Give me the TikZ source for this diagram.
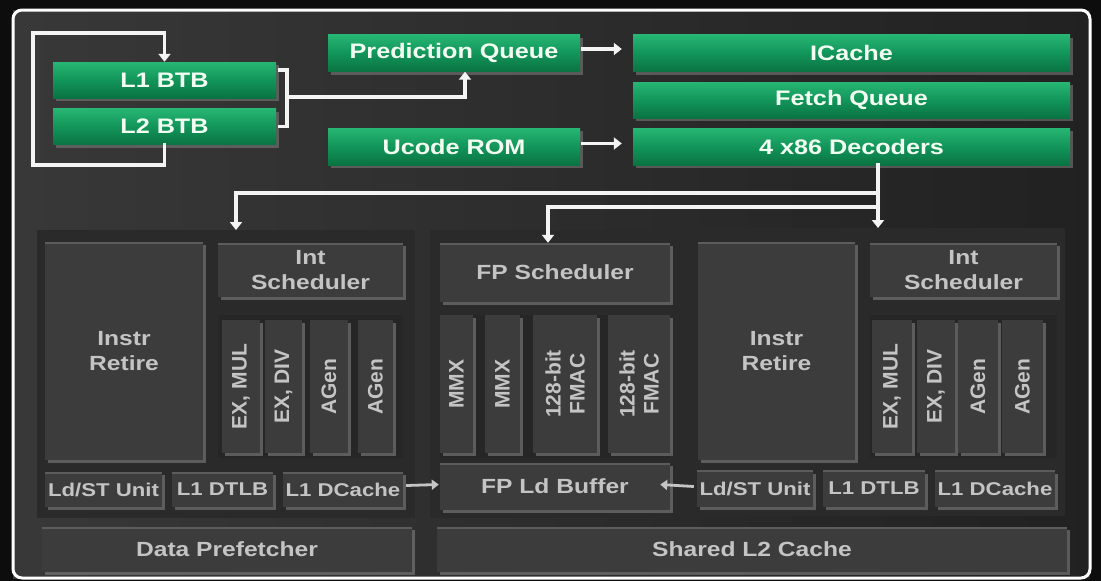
\documentclass[tikz,border=0pt]{standalone}
\usepackage{fontspec}
\newfontfamily\lab{Liberation Sans}[FakeStretch=1.2]
\newfontfamily\vlab{Liberation Sans}
\usetikzlibrary{arrows.meta,shadows,calc}

\definecolor{gtop}{HTML}{27B673}
\definecolor{gmid}{HTML}{12955A}
\definecolor{gbot}{HTML}{0A7342}
\definecolor{panel}{HTML}{2A2A2A}
\definecolor{boxfill}{HTML}{3C3C3C}
\definecolor{boxedge}{HTML}{5C5C5C}
\definecolor{graytext}{HTML}{C4C4C4}
\definecolor{wirecol}{HTML}{F4F4F4}

\begin{document}
\begin{tikzpicture}[x=1pt,y=-1pt,
  gbox/.style={top color=gtop, bottom color=gbot, middle color=gmid,
    inner sep=0pt, text=white!95!green,
    font=\lab\bfseries\fontsize{21}{25}\selectfont,
    drop shadow={shadow xshift=3pt, shadow yshift=-3pt, opacity=.55}},
  dbox/.style={fill=boxfill, inner sep=0pt, align=center, text=graytext,
    font=\lab\bfseries\fontsize{20.5}{25}\selectfont,
    drop shadow={shadow xshift=3pt, shadow yshift=-3pt, opacity=.6},
    path picture={\draw[boxedge, line width=3pt]
      (path picture bounding box.north west) -- (path picture bounding box.north east);}},
  smallbox/.style={dbox, font=\lab\bfseries\fontsize{18.5}{22}\selectfont},
  colbox/.style={fill=boxfill, inner sep=0pt, rotate=90, align=center,
    text=graytext, font=\vlab\bfseries\fontsize{21}{24}\selectfont,
    drop shadow={shadow xshift=3pt, shadow yshift=-3pt, opacity=.6}},
  backing/.style={fill=panel, inner sep=0pt},
  wire/.style={draw=wirecol, line width=3.6pt, line cap=rect,
    -{Triangle[width=12pt,length=8pt]}},
  plainwire/.style={draw=wirecol, line width=3.6pt},
  thinwire/.style={draw=graytext, line width=2.8pt,
    -{Triangle[width=10pt,length=7pt]}},
]
\useasboundingbox (0,0) rectangle (1101,581);
% page and frame
\fill[black!95] (0,0) rectangle (1101,581);
\path[shading=axis, shading angle=70, left color=black!78, right color=black!87]
  (13,10) rectangle (1090,578);
\draw[white!92, line width=3pt, rounded corners=9pt] (13,10) rectangle (1090,578);

% front end
\node[gbox, minimum width=223pt, minimum height=36pt] (l1) at (164.5,80) {L1 BTB};
\node[gbox, minimum width=223pt, minimum height=36pt] (l2) at (164.5,126.5) {L2 BTB};
\node[gbox, minimum width=252pt, minimum height=37pt] (pq) at (454,53) {Prediction Queue};
\node[gbox, minimum width=252pt, minimum height=37pt] (uc) at (454,146.5) {Ucode ROM};
\node[gbox, minimum width=437pt, minimum height=37pt] (ic) at (851.5,53) {ICache};
\node[gbox, minimum width=437pt, minimum height=36pt] (fq) at (851.5,100) {Fetch Queue};
\node[gbox, minimum width=437pt, minimum height=37pt] (dec) at (851.5,146.5) {4 x86 Decoders};

% BTB loop and bracket to the prediction queue
\draw[wire] (l2.south) -- ++(0,20) -| (33,33) -| (l1.north);
\draw[plainwire, line cap=butt] ($(l1.east)+(2,-10)$) -| ($(l1.east)+(11,0)$) |- ($(l2.east)+(2,0)$);
\coordinate (pqin) at ($(pq.south)+(11,0)$);
\draw[wire] ($(l1.east)+(11,17)$) -| (pqin);
\draw[wire] ($(pq.east)+(3,-4)$) -- ($(ic.west)+(-11,-4)$);
\draw[wire] ($(uc.east)+(3,-3)$) -- ($(dec.west)+(-11,-3)$);

% execution back-end panels
\node[backing, minimum width=378pt, minimum height=288pt, anchor=north west] (lpan) at (37,230) {};
\node[backing, minimum width=246pt, minimum height=288pt, anchor=north west] (mpan) at (430,230) {};
\node[backing, minimum width=376pt, minimum height=288pt, anchor=north west] (rpan) at (689,228) {};

% left integer cluster
\node[dbox, minimum width=158pt, minimum height=218pt] (lret) at (124,351) {Instr\\Retire};
\node[dbox, minimum width=185pt, minimum height=54pt] (lsch) at (310.5,270) {Int\\Scheduler};
\node[fill=black!85, inner sep=0pt, minimum width=185pt, minimum height=143pt] (lex) at (310.5,386.5) {};
\node[colbox, minimum width=133pt, minimum height=38pt] (lmul) at (241,386.5) {EX, MUL};
\node[colbox, minimum width=133pt, minimum height=37pt] (ldiv) at (283.5,386.5) {EX, DIV};
\node[colbox, minimum width=133pt, minimum height=38pt] (lag1) at (329,386.5) {AGen};
\node[colbox, minimum width=133pt, minimum height=35pt] (lag2) at (375.5,386.5) {AGen};
\node[smallbox, minimum width=117pt, minimum height=35pt] (lls) at (103.5,489.5) {Ld/ST Unit};
\node[smallbox, minimum width=101pt, minimum height=35pt] (ltlb) at (222.5,489.5) {L1 DTLB};
\node[smallbox, minimum width=120pt, minimum height=35pt] (ldc) at (343,489.5) {L1 DCache};
\node[dbox, minimum width=370pt, minimum height=45pt] (pref) at (227,549.5) {Data Prefetcher};

% floating point cluster
\node[dbox, minimum width=230pt, minimum height=59pt] (fps) at (555,272.5) {FP Scheduler};
\node[fill=black!85, inner sep=0pt, minimum width=230pt, minimum height=143pt] (fex) at (555,386.5) {};
\node[colbox, minimum width=138pt, minimum height=33pt] (mmx1) at (456.5,384) {MMX};
\node[colbox, minimum width=138pt, minimum height=35pt] (mmx2) at (502.5,384) {MMX};
\node[colbox, minimum width=138pt, minimum height=64pt] (fma1) at (565,384) {128-bit\\FMAC};
\node[colbox, minimum width=138pt, minimum height=62pt] (fma2) at (639,384) {128-bit\\FMAC};
\node[dbox, minimum width=230pt, minimum height=47pt] (fpl) at (555,486.5) {FP Ld Buffer};
\node[dbox, minimum width=630pt, minimum height=45pt] (l2c) at (752,549.5) {Shared L2 Cache};

% right integer cluster
\node[dbox, minimum width=157pt, minimum height=218pt] (rret) at (776.5,351) {Instr\\Retire};
\node[dbox, minimum width=187pt, minimum height=54pt] (rsch) at (963.5,270) {Int\\Scheduler};
\node[fill=black!85, inner sep=0pt, minimum width=187pt, minimum height=143pt] (rex) at (963.5,386.5) {};
\node[colbox, minimum width=133pt, minimum height=40pt] (rmul) at (892,386.5) {EX, MUL};
\node[colbox, minimum width=133pt, minimum height=38pt] (rdiv) at (936,386.5) {EX, DIV};
\node[colbox, minimum width=133pt, minimum height=40pt] (rag1) at (978,386.5) {AGen};
\node[colbox, minimum width=133pt, minimum height=41pt] (rag2) at (1022.5,386.5) {AGen};
\node[smallbox, minimum width=116pt, minimum height=36pt] (rls) at (755,488.5) {Ld/ST Unit};
\node[smallbox, minimum width=102pt, minimum height=36pt] (rtlb) at (874,488.5) {L1 DTLB};
\node[smallbox, minimum width=120pt, minimum height=36pt] (rdc) at (995,488.5) {L1 DCache};

% dispatch from the decoders
\coordinate (split) at (878,193);
\coordinate (ltap) at (236,193);
\coordinate (ftap) at (548,207);
\draw[wire] (dec.south -| split) -- (split |- rpan.north);
\draw[wire] (split) -- (ltap) -- (ltap |- lpan.north);
\draw[wire] (split |- ftap) -- (ftap) -- (ftap |- fps.north);

% loads into the FP load buffer
\draw[thinwire] ($(ldc.east)+(3,-4)$) -- ($(fpl.west)+(-1,-2)$);
\draw[thinwire] ($(rls.west)+(-3,-2)$) -- ($(fpl.east)+(-10,-2)$);
\end{tikzpicture}
\end{document}
